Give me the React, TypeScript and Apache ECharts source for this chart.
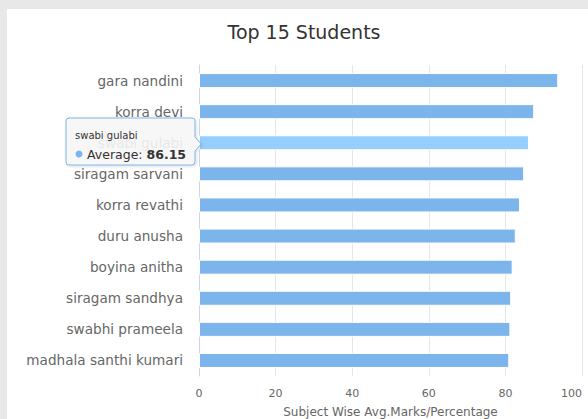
import React, { useEffect, useRef } from "react";
import * as echarts from "echarts";

const students = [
  "gara nandini",
  "korra devi",
  "swabi gulabi",
  "siragam sarvani",
  "korra revathi",
  "duru anusha",
  "boyina anitha",
  "siragam sandhya",
  "swabhi prameela",
  "madhala santhi kumari",
];
const averages = [93.8, 87.5, 86.15, 84.9, 83.8, 82.7, 81.9, 81.5, 81.3, 81.0];
const xTicks = [0, 20, 40, 60, 80, 100];
const hoveredIndex = 2;
const seriesName = "Average";

const TIP_PATH =
  "M3,0 H126 Q129,0 129,3 V19 L135,26 L129,33 V44 Q129,47 126,47 H3 Q0,47 0,44 V3 Q0,0 3,0 Z";

let registered = false;

export default function App() {
  const ref = useRef<HTMLDivElement>(null);
  useEffect(() => {
    document.body.style.margin = "0";
    if (!registered) {
      echarts.graphic.registerShape("tipShape", echarts.graphic.extendPath(TIP_PATH, {}) as any);
      registered = true;
    }
    const chart = echarts.init(ref.current!, null, { renderer: "svg" });
    const font = "DejaVu Sans";
    const Z = 1000;
    chart.setOption({
      animation: false,
      backgroundColor: "#e8e8e8",
      title: {
        text: "Top 15 Students",
        left: 299,
        textAlign: "center",
        top: 17,
        textStyle: { fontFamily: font, fontSize: 19, fontWeight: "normal", color: "#333333" },
      },
      grid: { left: 199, right: 6, top: 65, bottom: 43, outerBoundsMode: "none", containLabel: false },
      xAxis: {
        type: "value",
        min: xTicks[0],
        max: xTicks[xTicks.length - 1],
        interval: xTicks[1] - xTicks[0],
        name: "Subject Wise Avg.Marks/Percentage",
        nameLocation: "middle",
        nameGap: 30,
        nameTextStyle: { fontFamily: font, fontSize: 12, color: "#666666" },
        axisLine: { show: false },
        axisTick: { show: false },
        axisLabel: { fontFamily: font, fontSize: 11, color: "#666666", margin: 12, alignMaxLabel: "right" },
        splitLine: { lineStyle: { color: "#e6e6e6", width: 1 } },
      },
      yAxis: {
        type: "category",
        inverse: true,
        data: students,
        axisLine: { lineStyle: { color: "#ccd6eb" } },
        axisTick: { length: 10, lineStyle: { color: "#ccd6eb" } },
        axisLabel: { fontFamily: font, fontSize: 13.6, color: "#666666", margin: 16 },
      },
      series: [
        {
          name: seriesName,
          type: "bar",
          barWidth: 15,
          data: averages.map((v, i) =>
            i === hoveredIndex ? { value: v, itemStyle: { color: "#95ceff" } } : v
          ),
          itemStyle: { color: "#7cb5ec", borderColor: "#ffffff", borderWidth: 1 },
        },
      ],
      graphic: [
        {
          type: "rect",
          z: -10,
          silent: true,
          shape: { x: 7, y: 9, width: 600, height: 420 },
          style: { fill: "#ffffff" },
        },
        {
          type: "group",
          x: 66,
          y: 118,
          z: Z,
          children: [
            {
              type: "tipShape",
              z: Z,
              style: {
                fill: "rgba(248,248,248,0.88)",
                stroke: "#7cb5ec",
                lineWidth: 1,
                shadowBlur: 3,
                shadowColor: "rgba(0,0,0,0.15)",
                shadowOffsetX: 1,
                shadowOffsetY: 1,
              },
            },
            {
              type: "text",
              z: Z + 1,
              x: 9,
              y: 17,
              style: {
                text: students[hoveredIndex],
                fontFamily: font,
                fontSize: 10,
                fill: "#333333",
                verticalAlign: "middle",
              },
            },
            {
              type: "circle",
              z: Z + 1,
              shape: { cx: 13, cy: 36, r: 3.5 },
              style: { fill: "#7cb5ec" },
            },
            {
              type: "text",
              z: Z + 1,
              x: 21,
              y: 36,
              style: {
                text: "{n|" + seriesName + ": }{b|" + averages[hoveredIndex] + "}",
                verticalAlign: "middle",
                rich: {
                  n: { fontFamily: font, fontSize: 12.5, fill: "#333333" },
                  b: { fontFamily: font, fontSize: 12.5, fontWeight: "bold", fill: "#333333" },
                },
              },
            },
          ],
        },
      ],
    });
    return () => chart.dispose();
  }, []);
  return <div ref={ref} style={{ width: 588, height: 419 }} />;
}
